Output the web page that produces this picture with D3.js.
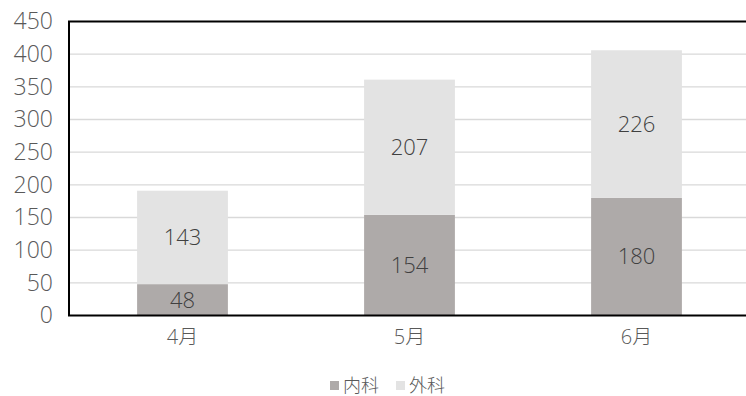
<!DOCTYPE html>
<html>
<head>
<meta charset="utf-8">
<script src="https://cdn.jsdelivr.net/npm/d3@7"></script>
<style>
  body { margin: 0; background: #fff; }
  svg text { font-family: "Open Sans", "Noto Sans CJK JP", sans-serif; font-weight: 300; }
</style>
</head>
<body>
<div id="graphic-area"></div>
<script>
const months = ["4月", "5月", "6月"];
const naika = [48, 154, 180];   // 内科
const geka = [143, 207, 226];   // 外科
const seriesNames = ["内科", "外科"];
const yTicks = [0, 50, 100, 150, 200, 250, 300, 350, 400, 450];

const w = 746;
const h = 396;
const plotLeft = 69, plotRight = 750, plotTop = 21.5, plotBottom = 315.5;
const colors = ["#aeaaa9", "#e3e3e3"];

const svg = d3.select("#graphic-area")
              .append("svg")
              .attr("width", w)
              .attr("height", h);

const xScale = d3.scaleBand()
                 .domain(months)
                 .range([plotLeft, plotRight])
                 .paddingInner(0.6)
                 .paddingOuter(0.3);

const yScale = d3.scaleLinear()
                 .domain([0, 450])
                 .range([plotBottom, plotTop]);

// gridlines
svg.append("g")
   .selectAll("line")
   .data(yTicks.slice(1, -1))
   .enter()
   .append("line")
   .attr("x1", plotLeft)
   .attr("x2", plotRight)
   .attr("y1", d => yScale(d))
   .attr("y2", d => yScale(d))
   .attr("stroke", "#d9d9d9")
   .attr("stroke-width", 1.3);

const table = months.map((m, i) => ({month: m, 内科: naika[i], 外科: geka[i]}));
const stacked = d3.stack().keys(seriesNames)(table);

const layers = svg.selectAll("g.layer")
   .data(stacked)
   .enter()
   .append("g")
   .attr("class", "layer")
   .attr("fill", (d, i) => colors[i]);

layers.selectAll("rect")
   .data(d => d)
   .enter()
   .append("rect")
   .attr("x", d => xScale(d.data.month))
   .attr("y", d => yScale(d[1]))
   .attr("width", xScale.bandwidth())
   .attr("height", d => yScale(d[0]) - yScale(d[1]));

layers.selectAll("text")
   .data(d => d)
   .enter()
   .append("text")
   .attr("x", d => xScale(d.data.month) + xScale.bandwidth() / 2)
   .attr("y", d => yScale((d[0] + d[1]) / 2))
   .attr("dy", "0.35em")
   .attr("text-anchor", "middle")
   .attr("fill", "#404040")
   .style("font-size", "22px")
   .text(d => d[1] - d[0]);

// frame
svg.append("rect")
   .attr("x", plotLeft)
   .attr("y", plotTop)
   .attr("width", plotRight - plotLeft)
   .attr("height", plotBottom - plotTop)
   .attr("fill", "none")
   .attr("stroke", "#000")
   .attr("stroke-width", 2);

const yAxis = d3.axisLeft(yScale).tickValues(yTicks).tickSize(0).tickPadding(16);
const yg = svg.append("g")
   .attr("transform", "translate(" + plotLeft + ",0)")
   .call(yAxis);
yg.select(".domain").remove();
yg.selectAll("text").attr("fill", "#595959").style("font-size", "23px");

const xAxis = d3.axisBottom(xScale).tickSize(0).tickPadding(14);
const xg = svg.append("g")
   .attr("transform", "translate(0," + plotBottom + ")")
   .call(xAxis);
xg.select(".domain").remove();
xg.selectAll("text").attr("fill", "#595959").style("font-size", "20px");

// legend
const legendX = [330, 396];
const legend = svg.append("g");
seriesNames.forEach((name, i) => {
  legend.append("rect")
     .attr("x", legendX[i])
     .attr("y", 381)
     .attr("width", 9)
     .attr("height", 9)
     .attr("fill", colors[i]);
  legend.append("text")
     .attr("x", legendX[i] + 13)
     .attr("y", 385.5)
     .attr("dy", "0.35em")
     .attr("fill", "#595959")
     .style("font-size", "18px")
     .text(name);
});
</script>
</body>
</html>
